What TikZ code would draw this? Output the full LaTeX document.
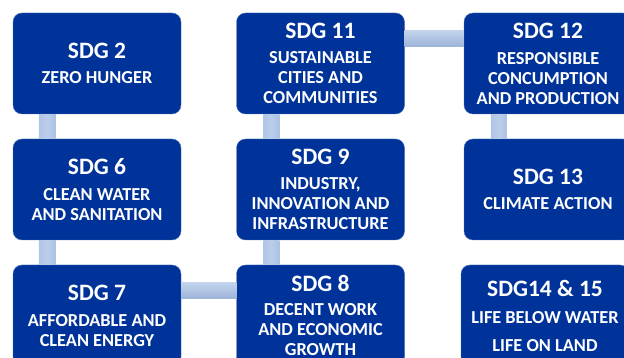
\documentclass[tikz,border=0pt]{standalone}
\usepackage{fontspec}
\setmainfont{Carlito}
\usetikzlibrary{calc}
\definecolor{sdgblue}{HTML}{00339A}
\definecolor{barlight}{HTML}{C2D3EC}
\definecolor{bardark}{HTML}{9CB4D9}
\definecolor{barmid}{HTML}{AFC5E5}
\newcommand{\ttl}{\fontsize{23.5}{26}\selectfont}
\tikzset{
  sdgbox/.style={fill=sdgblue, draw=sdgblue!70!white, line width=0.4pt,
    rounded corners=9pt, minimum width=168pt, minimum height=101pt,
    inner sep=0pt, align=center, text=white,
    font=\bfseries\fontsize{18.3}{20}\selectfont},
  vbar/.style={left color=barmid, right color=barmid!85!bardark, middle color=barlight!60!barmid},
  hbar/.style={top color=barlight, bottom color=bardark}
}
\begin{document}
\begin{tikzpicture}[x=1pt,y=-1pt]
\useasboundingbox (0,0) rectangle (624,358);
% boxes
\node[sdgbox] (s2)  at (97,63.5)   {{\ttl SDG 2}\\[5pt]ZERO HUNGER};
\node[sdgbox] (s11) at (320.5,63.5) {{\ttl SDG 11}\\[5pt]SUSTAINABLE\\CITIES AND\\COMMUNITIES};
\node[sdgbox] (s12) at (548,63.5)  {{\ttl SDG 12}\\[6pt]RESPONSIBLE\\CONCUMPTION\\AND PRODUCTION};
\node[sdgbox] (s6)  at (97,189.5)  {{\ttl SDG 6}\\[6pt]CLEAN WATER\\AND SANITATION};
\node[sdgbox] (s9)  at (320.5,189.5) {{\ttl SDG 9}\\[5pt]INDUSTRY,\\INNOVATION AND\\INFRASTRUCTURE};
\node[sdgbox] (s13) at (548,189.5) {{\ttl SDG 13}\\[5pt]CLIMATE ACTION};
\node[sdgbox] (s7)  at (97,315.5)  {{\ttl SDG 7}\\[6pt]AFFORDABLE AND\\CLEAN ENERGY};
\node[sdgbox] (s8)  at (320.5,315.5) {{\ttl SDG 8}\\[4pt]DECENT WORK\\AND ECONOMIC\\GROWTH};
\node[sdgbox] (s14) at (545,315.5) {{\ttl SDG14 \& 15}\\[7pt]LIFE BELOW WATER\\[8pt]LIFE ON LAND};
% connectors
\shade[vbar] ($(s2.south west)+(26,0)$) rectangle ($(s6.north west)+(43,0)$);
\shade[vbar] ($(s6.south west)+(26,0)$) rectangle ($(s7.north west)+(43,0)$);
\shade[vbar] ($(s11.south west)+(27,0)$) rectangle ($(s9.north west)+(43,0)$);
\shade[vbar] ($(s9.south west)+(27,0)$) rectangle ($(s8.north west)+(43,0)$);
\shade[vbar] ($(s12.south west)+(27,0)$) rectangle ($(s13.north west)+(43,0)$);
\shade[vbar] ($(s13.south west)+(27,0)$) rectangle ($(s14.north west)+(30,0)$);
\shade[hbar] ($(s11.north east)+(0,18)$) rectangle ($(s12.north west)+(0,33.5)$);
\shade[hbar] ($(s7.north east)+(0,18)$) rectangle ($(s8.north west)+(0,34)$);
\end{tikzpicture}
\end{document}
